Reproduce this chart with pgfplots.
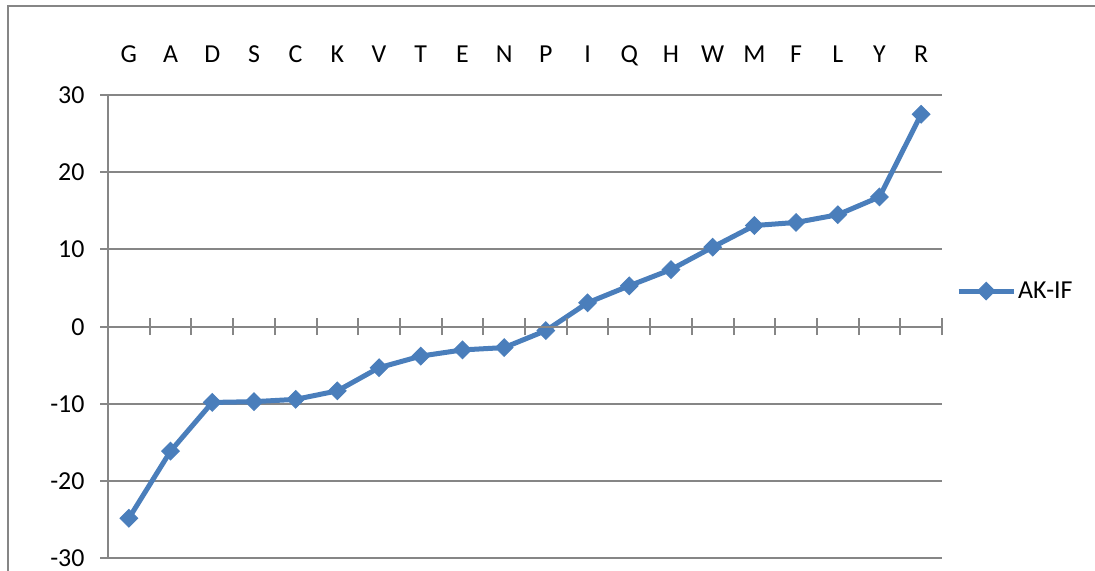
\documentclass[border=0pt]{standalone}
\usepackage{pgfplots}
\pgfplotsset{compat=1.18}
\usepackage{fontspec}
\setmainfont{Carlito}
\definecolor{ser}{HTML}{4A7EBB}
\definecolor{grd}{HTML}{868686}
\begin{document}
\begin{tikzpicture}[x=1bp,y=1bp]
\path[use as bounding box] (0,0) rectangle (1095,571);
\draw[grd, line width=2bp] (8,-5) -- (8,565) -- (1100,565);
\begin{axis}[at={(108bp,12.5bp)}, anchor=south west, scale only axis,
  width=834bp, height=463.5bp,
  xmin=-0.5, xmax=19.5, ymin=-30, ymax=30,
  axis x line*=top, axis y line*=left,
  axis line style={grd, line width=2bp, -},
  xtick={0,...,19},
  xticklabels={G,A,D,S,C,K,V,T,E,N,P,I,Q,H,W,M,F,L,Y,R},
  x tick style={draw=none},
  xticklabel pos=upper,
  x tick label style={anchor=base, yshift=24bp},
  ytick={-30,-20,...,30},
  y tick style={grd, line width=2bp},
  tick align=outside, major tick length=8bp,
  y tick label style={xshift=-12bp},
  ymajorgrids, grid style={grd, line width=2bp},
  tick label style={font=\fontsize{26}{30}\selectfont},
  /pgf/number format/assume math mode=true,
  legend style={at={(rel axis cs:1,0.577)}, anchor=west, xshift=14bp, draw=none, fill=none,
    font=\fontsize{26}{30}\selectfont, inner sep=0pt},
  legend cell align=left,
  legend image code/.code={\draw[mark repeat=2,mark phase=2,#1] plot coordinates {(0bp,0bp) (27.5bp,0bp) (55bp,0bp)};},
]
\addplot[ser, line width=5bp, mark=square*, mark size=6.2bp, mark options={rotate=45, solid, line width=1bp}]
coordinates {
(0,-24.8) (1,-16.1) (2,-9.8) (3,-9.7) (4,-9.4) (5,-8.3) (6,-5.3) (7,-3.8) (8,-3.0) (9,-2.7)
(10,-0.5) (11,3.1) (12,5.3) (13,7.4) (14,10.3) (15,13.1) (16,13.5) (17,14.5) (18,16.8) (19,27.5)
};
\addlegendentry{AK-IF}
\end{axis}
\begin{axis}[at={(108bp,12.5bp)}, anchor=south west, scale only axis,
  width=834bp, height=463.5bp,
  xmin=-0.5, xmax=19.5, ymin=-30, ymax=30,
  axis x line=middle, axis y line=none,
  x axis line style={grd, line width=2bp, -},
  xtick={0.5,1.5,...,19.5}, xticklabels={},
  x tick style={grd, line width=2bp},
  tick align=center, major tick length=17bp,
  ytick=\empty,
]
\end{axis}
\end{tikzpicture}
\end{document}
